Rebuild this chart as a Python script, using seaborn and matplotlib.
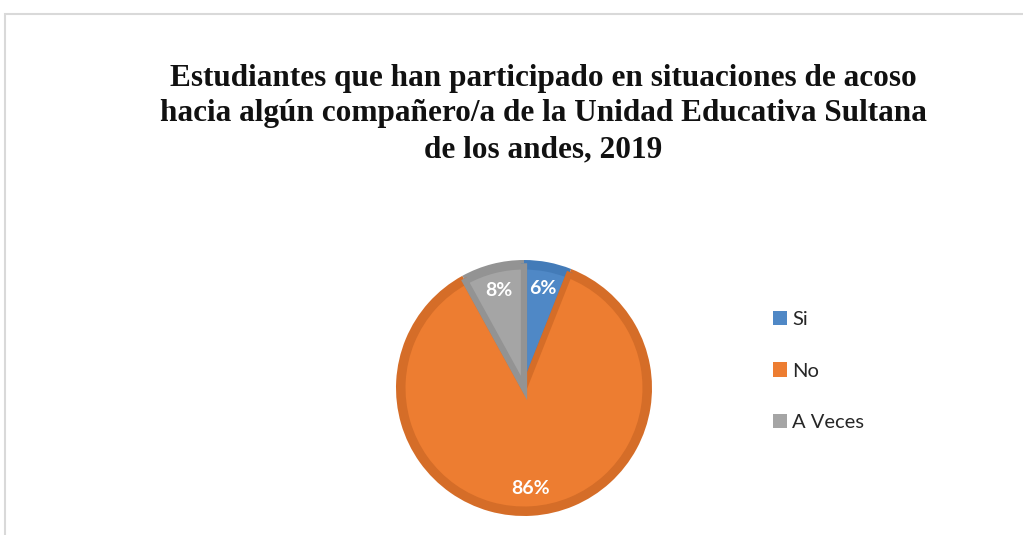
import matplotlib
matplotlib.use("Agg")
import matplotlib.pyplot as plt
from matplotlib.patches import Rectangle, Patch
import seaborn as sns

sns.set_style("white")
plt.rcParams["font.family"] = ["Lato", "DejaVu Sans"]

# data
categories = ["Si", "No", "A Veces"]
shares = [6, 86, 8]
fills = ["#4F88C6", "#ED7D31", "#A5A5A5"]
edges = ["#437BB8", "#D56D28", "#939393"]

title = ("Estudiantes que han participado en situaciones de acoso\n"
         "hacia algún compañero/a de la Unidad Educativa Sultana\n"
         "de los andes, 2019")

fig = plt.figure(figsize=(10.23, 5.35), dpi=100, facecolor="white")

# light frame of the chart area
fig.patches.append(Rectangle((5 / 1023, -0.01), 1.05, 1 - 14 / 535 + 0.01,
                             transform=fig.transFigure, fill=False,
                             edgecolor="#D9D9D9", linewidth=1.5))

fig.text(0.531, 1 - 114 / 535, title, ha="center", va="center", fontsize=22.5,
         fontweight="bold", family="Liberation Serif", linespacing=1.3,
         color="#111111")

ax = fig.add_axes([396 / 1023, 19 / 535, 256 / 1023, 256 / 535])
# darker rim underneath, lighter fill on top
ax.pie(shares, colors=edges, startangle=90, counterclock=False, radius=1,
       wedgeprops=dict(linewidth=0))
wedges, _, pct = ax.pie(shares, colors=fills, startangle=90, counterclock=False,
                        radius=0.95, autopct="%d%%", pctdistance=0.83,
                        wedgeprops=dict(edgecolor=None, linewidth=0),
                        textprops=dict(color="white", fontsize=14, fontweight="bold"))
for w, ec in zip(wedges, edges):
    w.set_edgecolor(ec)
    w.set_linewidth(4.5)
ax.set_xlim(-1, 1)
ax.set_ylim(-1, 1)

handles = [Patch(facecolor=c, edgecolor="none") for c in fills]
fig.legend(handles, categories, loc="center left",
           bbox_to_anchor=(773 / 1023, 1 - 371 / 535), frameon=False,
           fontsize=14.5, labelspacing=1.72, handlelength=0.7, handleheight=0.7,
           handletextpad=0.25, borderpad=0, borderaxespad=0)

fig.savefig("out.png", dpi=100, facecolor="white")
